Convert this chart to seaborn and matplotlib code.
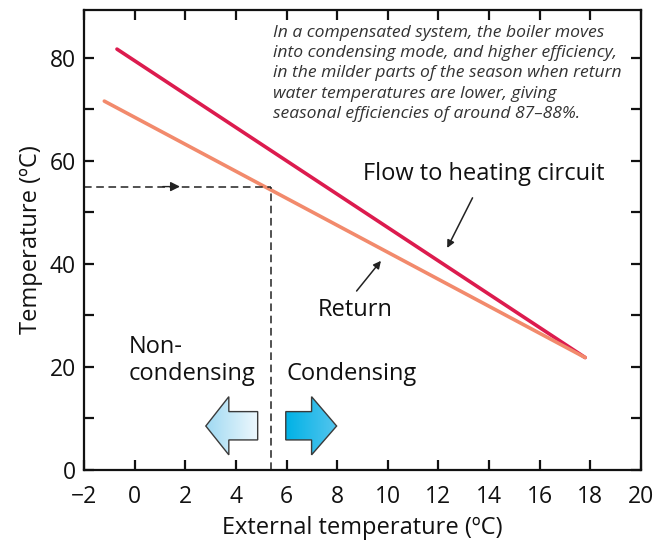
import numpy as np
import pandas as pd
import matplotlib
matplotlib.use("Agg")
import matplotlib.pyplot as plt
import seaborn as sns
from matplotlib.patches import Polygon

# ---- data ----
flow_x = [-0.7, 17.8]
flow_y = [81.7, 21.8]
return_x = [-1.2, 17.8]
return_y = [71.6, 21.8]
series_names = ["Flow to heating circuit", "Return"]
switch_temp = 5.4
switch_return = 55.0
x_ticks = list(range(-2, 21, 2))
y_ticks = [0, 20, 40, 60, 80]
note = ("In a compensated system, the boiler moves\n"
        "into condensing mode, and higher efficiency,\n"
        "in the milder parts of the season when return\n"
        "water temperatures are lower, giving\n"
        "seasonal efficiencies of around 87\u201388%.")

df = pd.DataFrame({
    "x": flow_x + return_x,
    "y": flow_y + return_y,
    "series": [series_names[0]] * 2 + [series_names[1]] * 2,
})

sns.set_theme(style="ticks")
plt.rcParams["font.family"] = ["Open Sans", "DejaVu Sans"]

fig = plt.figure(figsize=(6.62, 5.54), dpi=100)
ax = fig.add_axes([0.127, 0.152, 0.841, 0.830])

sns.lineplot(data=df, x="x", y="y", hue="series",
             palette={series_names[0]: "#dc1b4e", series_names[1]: "#f28a6c"},
             lw=2.6, legend=False, ax=ax)

XL = (-2, 20)
YL = (0, 89.3)
ax.set_xlim(*XL)
ax.set_ylim(*YL)

# dashed guide
ax.plot([XL[0], switch_temp], [switch_return, switch_return], ls=(0, (5, 3)), color="#222", lw=1.1)
ax.plot([switch_temp, switch_temp], [0, switch_return], ls=(0, (5, 3)), color="#222", lw=1.1)
ax.annotate("", xy=(1.9, switch_return), xytext=(1.0, switch_return),
            arrowprops=dict(arrowstyle="-|>", color="#222", lw=1.0, mutation_scale=14))

# block arrows with gradient
def grad_arrow(pts, c0, c1):
    poly = Polygon(pts, closed=True, facecolor="none", edgecolor="#3a3a3a", lw=1.0, zorder=4)
    ax.add_patch(poly)
    xs = [p[0] for p in pts]; ys = [p[1] for p in pts]
    g = np.linspace(0, 1, 256).reshape(1, -1)
    cmap = matplotlib.colors.LinearSegmentedColormap.from_list("g", [c0, c1])
    im = ax.imshow(g, extent=[min(xs), max(xs), min(ys), max(ys)], cmap=cmap,
                   aspect="auto", origin="lower", zorder=3)
    im.set_clip_path(poly)

left_pts = [(2.81, 8.5), (3.72, 14.2), (3.72, 11.3), (4.86, 11.3),
            (4.86, 5.8), (3.72, 5.8), (3.72, 2.9)]
right_pts = [(7.98, 8.5), (6.99, 14.2), (6.99, 11.3), (5.97, 11.3),
             (5.97, 5.8), (6.99, 5.8), (6.99, 2.9)]
grad_arrow(left_pts, "#9fd9f2", "#eef8fd")
grad_arrow(right_pts, "#00b2e6", "#55c5ee")
ax.set_xlim(*XL)
ax.set_ylim(*YL)

# texts
tc = "#111"
fs = 17
ax.text(13.8, 57.4, series_names[0], fontsize=fs, color=tc, ha="center", va="center")
ax.annotate("", xy=(12.3, 42.6), xytext=(13.4, 53.3),
            arrowprops=dict(arrowstyle="-|>", color="#222", lw=1.1, mutation_scale=11))
ax.text(8.7, 31.0, series_names[1], fontsize=fs, color=tc, ha="center", va="center")
ax.annotate("", xy=(9.8, 41.0), xytext=(8.7, 34.3),
            arrowprops=dict(arrowstyle="-|>", color="#222", lw=1.1, mutation_scale=11))
ax.text(-0.25, 21.2, "Non-\ncondensing", fontsize=fs, color=tc, ha="left", va="center",
        linespacing=1.2)
ax.text(6.0, 18.6, "Condensing", fontsize=fs, color=tc, ha="left", va="center")
ax.text(0.339, 0.968, note, transform=ax.transAxes, fontsize=12.6, style="italic",
        color="#333", ha="left", va="top", linespacing=1.36)

# axes styling
ax.set_xticks(x_ticks)
ax.set_xticklabels([("\u2212" + str(-t)) if t < 0 else str(t) for t in x_ticks])
ax.set_yticks(y_ticks)
ax.set_yticks(range(10, 90, 20), minor=True)
ax.tick_params(which="both", direction="in", top=True, right=True, length=7, width=1.6,
               labelsize=16.5, colors="#111", pad=6)
ax.tick_params(axis="x", which="major", pad=11)
ax.tick_params(axis="x", which="minor", bottom=False, top=False)
for s in ax.spines.values():
    s.set_linewidth(1.6)
    s.set_color("#111")
ax.set_xlabel("External temperature (\u00baC)", fontsize=fs, color=tc, labelpad=5)
ax.set_ylabel("Temperature (\u00baC)", fontsize=fs, color=tc, labelpad=5)

fig.savefig("out.png", dpi=100)
